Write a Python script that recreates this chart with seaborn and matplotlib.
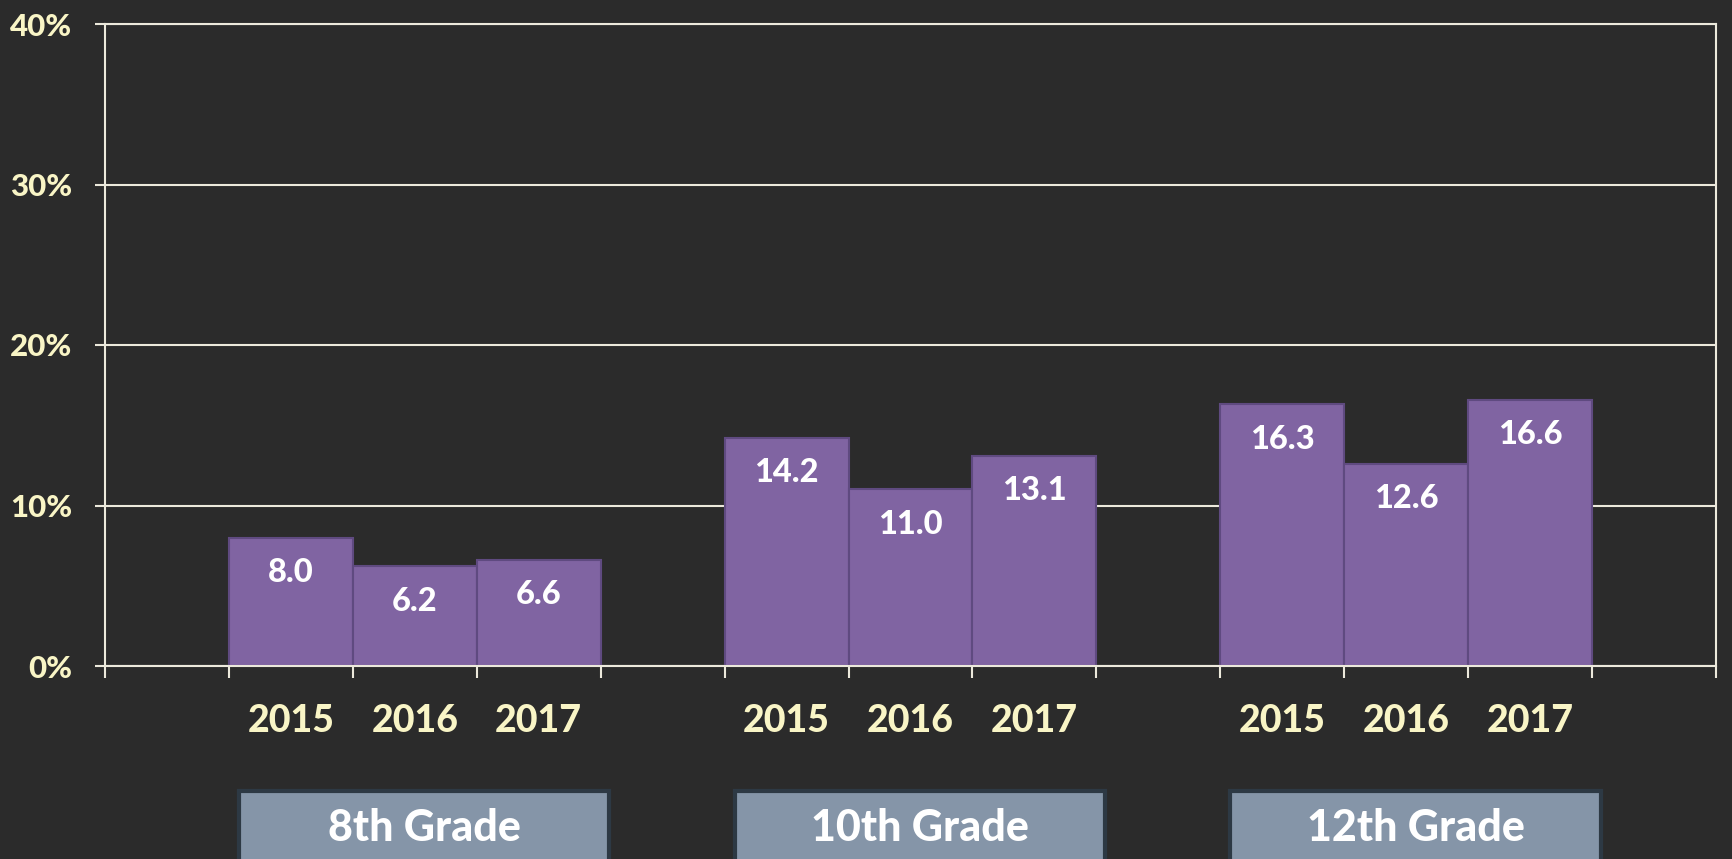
import matplotlib
matplotlib.use("Agg")
import matplotlib.pyplot as plt
import matplotlib.transforms as mtransforms
from matplotlib.patches import Rectangle
import seaborn as sns
import pandas as pd
import numpy as np

# ---- data ----
grades = ["8th Grade", "10th Grade", "12th Grade"]
years = ["2015", "2016", "2017"]
values_8th = [8.0, 6.2, 6.6]
values_10th = [14.2, 11.0, 13.1]
values_12th = [16.3, 12.6, 16.6]
y_ticks = [0, 10, 20, 30, 40]
y_tick_labels = ["0%", "10%", "20%", "30%", "40%"]

# ---- style ----
BG = "#2b2b2b"
CREAM = "#f9f5c6"
LINE = "#ece9dc"
BAR = "#8064a2"
BAR_EDGE = "#5f4a80"
BOX = "#8595a8"
BOX_EDGE = "#2d3944"
WEIGHT = "black"

sns.set_style("dark", rc={"axes.facecolor": BG, "figure.facecolor": BG})
plt.rcParams["font.family"] = ["Lato", "DejaVu Sans"]

# build the table: one gap slot before each grade group and one at the end
rows = []
slot_order = []
for gi, (g, vals) in enumerate(zip(grades, [values_8th, values_10th, values_12th])):
    slot_order.append(" " * (gi + 1))
    for y, v in zip(years, vals):
        name = f"{g} {y}"
        slot_order.append(name)
        rows.append({"slot": name, "grade": g, "year": y, "value": v})
slot_order.append(" " * (len(grades) + 1))
df = pd.DataFrame(rows)

fig = plt.figure(figsize=(17.33, 8.59), dpi=100)
ax = fig.add_axes([105 / 1733, 1 - 666 / 859, (1716 - 105) / 1733, (666 - 24) / 859])

# gridlines behind bars
ax.set_axisbelow(True)
ax.yaxis.grid(True, color=LINE, linewidth=1.5)
ax.xaxis.grid(False)

sns.barplot(data=df, x="slot", y="value", order=slot_order, width=1.0,
            color=BAR, edgecolor=BAR_EDGE, linewidth=1.5, saturation=1,
            errorbar=None, ax=ax)

ax.set_xlim(-0.5, len(slot_order) - 0.5)
ax.set_ylim(0, 40)
ax.set_xlabel("")
ax.set_ylabel("")

# y axis
ax.set_yticks(y_ticks)
ax.set_yticklabels(y_tick_labels, color=CREAM, fontsize=22.5, fontweight=WEIGHT)
ax.tick_params(axis="y", length=7.5, width=1.5, color=LINE, pad=16, left=True)

# x axis: tick marks at slot boundaries, no labels
ax.set_xticks(np.arange(-0.5, len(slot_order), 1.0))
ax.set_xticklabels([])
ax.tick_params(axis="x", length=8.5, width=1.5, color=LINE, bottom=True)

for sp in ax.spines.values():
    sp.set_visible(True)
    sp.set_color(LINE)
    sp.set_linewidth(1.5)

# value labels inside bars
bars = [p for p in ax.patches if p.get_height() > 0]
for patch, v in zip(bars, df["value"]):
    cx = patch.get_x() + patch.get_width() / 2
    ax.annotate(f"{v:.1f}", (cx, patch.get_height()), xytext=(0, -25),
                textcoords="offset points", ha="center", va="center",
                color="white", fontsize=23.5, fontweight=WEIGHT)

# year labels under each bar
trans = mtransforms.blended_transform_factory(ax.transData, ax.transAxes)
slot_index = {s: i for i, s in enumerate(slot_order)}
for _, r in df.iterrows():
    ax.text(slot_index[r["slot"]], -0.1028, r["year"], transform=trans,
            ha="center", va="baseline", color=CREAM, fontsize=27, fontweight=WEIGHT)

# grade boxes
btrans = mtransforms.blended_transform_factory(ax.transData, fig.transFigure)
for g in grades:
    first = slot_index[f"{g} {years[0]}"]
    last = slot_index[f"{g} {years[-1]}"]
    x0 = first - 0.5 + 0.08
    x1 = last + 0.5 + 0.07
    rect = Rectangle((x0, -0.1), x1 - x0, 0.1 + (1 - 791 / 859),
                     transform=btrans, facecolor=BOX, edgecolor=BOX_EDGE,
                     linewidth=3, clip_on=False)
    fig.add_artist(rect)
    fig.text((x0 + x1) / 2, 1 - 828 / 859, g, transform=btrans,
             ha="center", va="center", color="white", fontsize=31, fontweight=WEIGHT)

fig.savefig("out.png", dpi=100, facecolor=BG)
